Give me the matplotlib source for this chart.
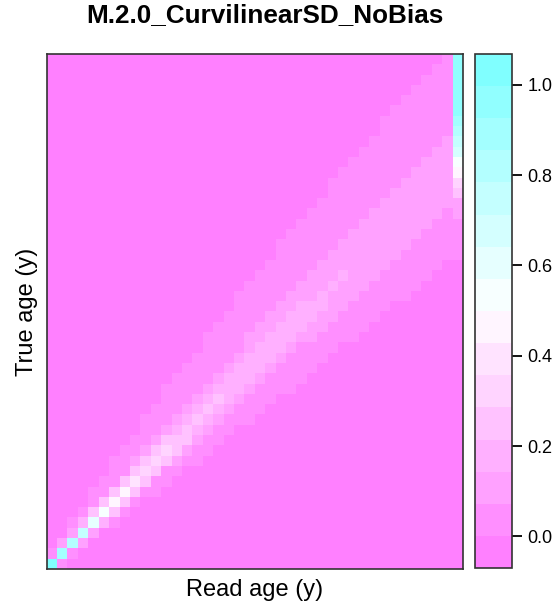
import math
import numpy as np
import matplotlib
matplotlib.use("Agg")
import matplotlib.pyplot as plt
from matplotlib.colors import ListedColormap, BoundaryNorm
from matplotlib.ticker import NullLocator

plt.rcParams['font.family'] = ['Liberation Sans', 'DejaVu Sans']

# ageing error model: read ages 0-39, true ages 0-49
read_ages = list(range(40))
true_ages = list(range(50))
# standard deviation of the read age for each true age (curvilinear, no bias)
sd_by_age = [0.17, 0.30, 0.38, 0.47, 0.58, 0.68, 0.78, 0.88, 0.98, 1.08,
             1.18, 1.28, 1.38, 1.48, 1.58, 1.68, 1.77, 1.86, 1.95, 2.04,
             2.12, 2.20, 2.28, 2.36, 2.44, 2.52, 2.59, 2.66, 2.73, 2.80,
             2.87, 2.94, 3.01, 3.08, 3.15, 3.21, 3.27, 3.33, 3.39, 3.45,
             3.51, 3.57, 3.63, 3.69, 3.75, 3.81, 3.87, 3.93, 3.99, 4.05]

title = "M.2.0_CurvilinearSD_NoBias"
cbar_ticks = [0.0, 0.2, 0.4, 0.6, 0.8, 1.0]


def pnorm(z):
    return 0.5 * (1.0 + math.erf(z / math.sqrt(2.0)))


# probability of each read age given the true age
mat = np.zeros((len(true_ages), len(read_ages)))
for i, a in enumerate(true_ages):
    s = sd_by_age[i]
    for j, r in enumerate(read_ages):
        hi = 1.0 if j == len(read_ages) - 1 else pnorm((r + 0.5 - a) / s)
        lo = 0.0 if j == 0 else pnorm((r - 0.5 - a) / s)
        mat[i, j] = hi - lo

# lattice-style colour regions: 16 levels from cm.colors(100), reversed
def cm_colors_rev(n=100):
    k = n // 2
    cyan = [(1 - s, 1.0, 1.0) for s in np.linspace(0.5, 0.5 / k, k)]
    pink = [(1.0, 1 - s, 1.0) for s in np.linspace(0, 0.5, n - k + 1)[1:]]
    return (cyan + pink)[::-1]

pal = cm_colors_rev(100)
nreg = 16
idx = [int(math.floor(1 + i * 99 / (nreg - 1))) - 1 for i in range(nreg)]
cmap = ListedColormap([pal[i] for i in idx])
zmax = mat.max()
breaks = np.linspace(-0.07 * zmax, 1.07 * zmax, nreg + 1)
norm = BoundaryNorm(breaks, cmap.N)

fig = plt.figure(figsize=(5.57, 6.04), dpi=100)
ax = fig.add_axes([0.0838, 0.0580, 0.7474, 0.8526])
cax = fig.add_axes([0.8528, 0.0596, 0.0665, 0.8510])

xe = np.arange(len(read_ages) + 1) - 0.5
ye = np.arange(len(true_ages) + 1) - 0.5
mesh = ax.pcolormesh(xe, ye, mat, cmap=cmap, norm=norm)
ax.set_xlim(xe[0], xe[-1])
ax.set_ylim(ye[0], ye[-1])
ax.set_xticks([])
ax.set_yticks([])
for sp in ax.spines.values():
    sp.set_linewidth(1.2)
    sp.set_color("#333333")
ax.set_xlabel("Read age (y)", fontsize=17, labelpad=7)
ax.set_ylabel("True age (y)", fontsize=17, labelpad=6)

cb = fig.colorbar(mesh, cax=cax)
cb.set_ticks(cbar_ticks, labels=[f"{t:.1f}" for t in cbar_ticks])
cax.yaxis.set_minor_locator(NullLocator())
cb.outline.set_linewidth(1.2)
cb.outline.set_edgecolor("#333333")
cax.tick_params(which="major", direction="out", length=7, width=1.3,
                labelsize=13, pad=4, color="black")

fig.text(0.476, 0.975, title, ha="center", va="center",
         fontsize=18.8, fontweight="bold")

fig.savefig("out.png", dpi=100)
